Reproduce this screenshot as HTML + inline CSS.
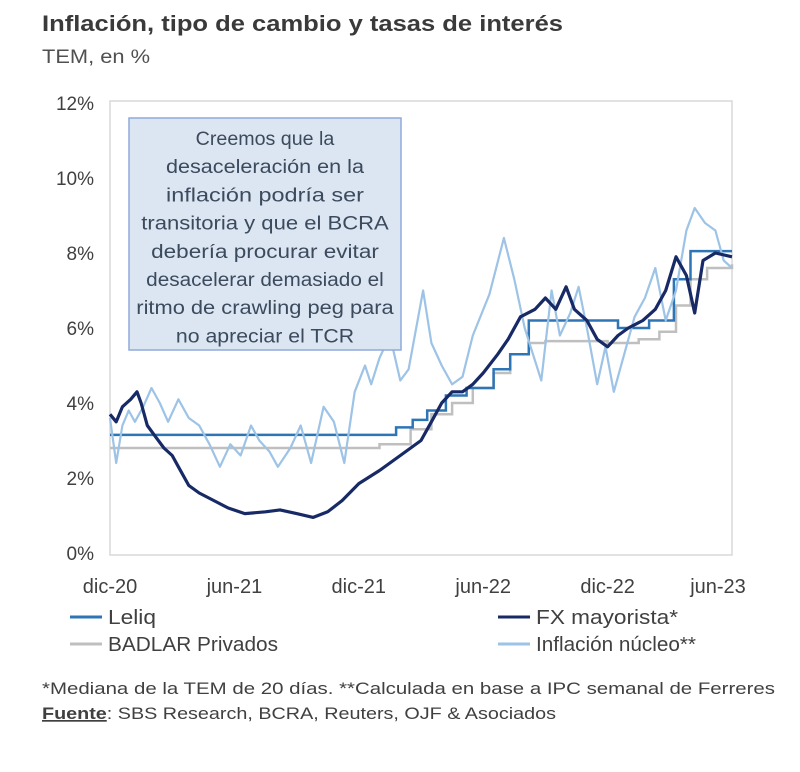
<!DOCTYPE html>
<html><head><meta charset="utf-8">
<style>
body{margin:0;background:#fff;font-family:"Liberation Sans",sans-serif;}
#wrap{position:relative;width:800px;height:772px;overflow:hidden;}
</style></head>
<body><div id="wrap">
<svg id="chart" width="800" height="772" style="position:absolute;left:0;top:0" font-family="Liberation Sans, sans-serif">
<text x="42" y="31" font-size="22" font-weight="bold" fill="#3a3a3a" textLength="521" lengthAdjust="spacingAndGlyphs">Inflación, tipo de cambio y tasas de interés</text>
<text x="42" y="63" font-size="19" fill="#505050" textLength="108" lengthAdjust="spacingAndGlyphs">TEM, en %</text>
<text x="42" y="694" font-size="17" fill="#404040" textLength="733" lengthAdjust="spacingAndGlyphs">*Mediana de la TEM de 20 días. **Calculada en base a IPC semanal de Ferreres</text>
<text x="42" y="719" font-size="17" fill="#404040" textLength="514" lengthAdjust="spacingAndGlyphs"><tspan font-weight="bold" text-decoration="underline">Fuente</tspan>: SBS Research, BCRA, Reuters, OJF &amp; Asociados</text>
</svg>
</div>
<script>
const xTickLabels=["dic-20","jun-21","dic-21","jun-22","dic-22","jun-23"];
const xTickMonths=[0,6,12,18,24,30];
const yTicks=[0,2,4,6,8,10,12];
const fxMonths=[0,0.3,0.6,1,1.3,1.5,1.8,2.2,2.6,3,3.3,3.8,4.3,5,5.7,6.5,7.5,8.2,9,9.8,10.5,11.2,12,13,14,15,15.5,16,16.5,17,17.5,18,18.7,19.2,19.8,20.5,21,21.5,22,22.4,23,23.5,24,24.5,25,25.7,26.3,26.8,27.3,27.8,28.2,28.6,29.2,30];
const fxValues=[3.7,3.5,3.9,4.1,4.3,4.0,3.4,3.1,2.8,2.6,2.3,1.8,1.6,1.4,1.2,1.05,1.1,1.15,1.05,0.95,1.1,1.4,1.85,2.2,2.6,3.0,3.5,4.0,4.3,4.3,4.5,4.8,5.3,5.7,6.3,6.5,6.8,6.5,7.1,6.5,6.2,5.7,5.5,5.8,6.0,6.2,6.5,7.0,7.9,7.4,6.4,7.8,8.0,7.9];
const inflMonths=[0,0.3,0.6,0.9,1.2,1.6,2,2.4,2.8,3.3,3.8,4.3,4.8,5.3,5.8,6.3,6.8,7.2,7.7,8.1,8.7,9.2,9.7,10.3,10.8,11.3,11.8,12.3,12.6,13,13.5,14,14.4,15.1,15.5,16,16.5,17,17.5,18.3,19,19.5,20,20.4,20.8,21.3,21.7,22.2,22.6,23,23.5,23.9,24.3,24.8,25.3,25.8,26.3,26.8,27.3,27.8,28.2,28.7,29.2,29.6,30];
const inflValues=[3.6,2.4,3.4,3.8,3.5,3.9,4.4,4.0,3.5,4.1,3.6,3.4,2.9,2.3,2.9,2.6,3.4,3.0,2.7,2.3,2.8,3.4,2.4,3.9,3.5,2.4,4.3,5.0,4.5,5.2,5.8,4.6,4.9,7.0,5.6,5.0,4.5,4.7,5.8,6.9,8.4,7.3,6.0,5.3,4.6,7.0,5.8,6.4,7.1,6.0,4.5,5.5,4.3,5.3,6.3,6.8,7.6,6.2,7.0,8.6,9.2,8.8,8.6,7.8,7.6];
const leliqMonths=[0,13.8,14.6,15.3,16.2,17.2,18.5,19.3,20.2,24.5,26,27.2,28,30];
const leliqValues=[3.15,3.35,3.55,3.8,4.2,4.4,4.9,5.3,6.2,6.0,6.2,7.3,8.05,8.05];
const badlarMonths=[0,13,14.5,15.5,16.5,17.5,18.5,19.3,20.2,21,24,25.5,26.5,27.3,28,28.8,30];
const badlarValues=[2.8,2.9,3.3,3.7,4.0,4.4,4.8,5.3,5.6,5.65,5.6,5.7,5.9,6.6,7.3,7.6,7.7];

const NS="http://www.w3.org/2000/svg";
const svg=document.getElementById('chart');
const L=110,R=732,T=103,B=553;
const xs=m=>L+m*(R-L)/30;
const ys=v=>B-v*(B-T)/12;
function mk(tag,attrs){const e=document.createElementNS(NS,tag);for(const k in attrs)e.setAttribute(k,attrs[k]);svg.appendChild(e);return e;}

const frame=mk('rect',{x:L,y:T-2,width:R-L,height:B-T+4,fill:'none',stroke:'#d9d9d9','stroke-width':1.5});



yTicks.forEach(v=>{
  const t=mk('text',{x:94,y:ys(v)+7,'text-anchor':'end','font-size':19,fill:'#404040'});
  t.textContent=v+'%';
  
  
});
xTickLabels.forEach((lab,i)=>{
  const x=Math.min(xs(xTickMonths[i]),718);
  const t=mk('text',{x:x,y:593,'text-anchor':'middle','font-size':20,fill:'#404040'});
  t.textContent=lab;
  
  
});

function linePath(ms,vs){return ms.map((m,i)=>(i?'L':'M')+xs(m).toFixed(1)+' '+ys(vs[i]).toFixed(1)).join(' ');}
function stepPath(ms,vs){let d='M'+xs(ms[0])+' '+ys(vs[0]);for(let i=1;i<ms.length;i++){d+=' L'+xs(ms[i]).toFixed(1)+' '+ys(vs[i-1]).toFixed(1)+' L'+xs(ms[i]).toFixed(1)+' '+ys(vs[i]).toFixed(1);}return d;}

const pb=mk('path',{d:stepPath(badlarMonths,badlarValues),fill:'none',stroke:'#bfbfbf','stroke-width':2.5});


const pl=mk('path',{d:stepPath(leliqMonths,leliqValues),fill:'none',stroke:'#2e75b6','stroke-width':2.5});


const pi=mk('path',{d:linePath(inflMonths,inflValues),fill:'none',stroke:'#9dc3e6','stroke-width':2.2,'stroke-linejoin':'round'});


const pf=mk('path',{d:linePath(fxMonths,fxValues),fill:'none',stroke:'#172a66','stroke-width':3.2,'stroke-linejoin':'round'});



const box=mk('rect',{x:129,y:118,width:272,height:232,fill:'#dce6f2',stroke:'#8faadc','stroke-width':1.5});


const lines=["Creemos que la","desaceleración en la","inflación podría ser","transitoria y que el BCRA","debería procurar evitar","desacelerar demasiado el","ritmo de crawling peg para","no apreciar el TCR"];
lines.forEach((s,i)=>{
  const t=mk('text',{x:265,y:145+i*28.2,'text-anchor':'middle','font-size':19,fill:'#3b4a5c',textLength:Math.min(268,s.length*9.9),lengthAdjust:'spacingAndGlyphs'});
  t.textContent=s;
  
  
});

const legend=[["Leliq","#2e75b6",70,617,48],["FX mayorista*","#172a66",498,617,142],["BADLAR Privados","#bfbfbf",70,644,170],["Inflación núcleo**","#9dc3e6",498,644,160]];
legend.forEach(l=>{
  const ln=mk('line',{x1:l[2],x2:l[2]+32,y1:l[3],y2:l[3],stroke:l[1],'stroke-width':3});
  
  
  const t=mk('text',{x:l[2]+38,y:l[3]+7,'font-size':20,fill:'#404040',textLength:l[4],lengthAdjust:'spacingAndGlyphs'});
  t.textContent=l[0];
  
  
});
</script>
</body></html>
